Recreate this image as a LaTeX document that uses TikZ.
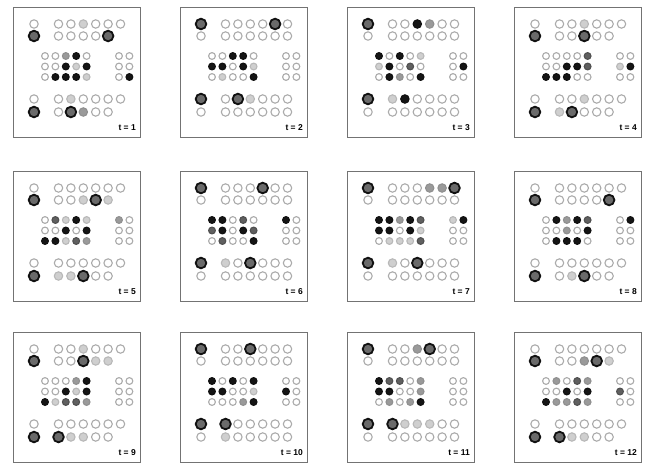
\documentclass[tikz,border=0pt]{standalone}
\usepackage{fontspec}
\setmainfont{Liberation Sans}
\definecolor{flw}{HTML}{FFFFFF}\definecolor{lnw}{HTML}{ABABAB}
\definecolor{fll}{HTML}{CFCFCF}\definecolor{lnl}{HTML}{B8B8B8}
\definecolor{flm}{HTML}{9A9A9A}\definecolor{lnm}{HTML}{909090}
\definecolor{fld}{HTML}{606060}\definecolor{lnd}{HTML}{505050}
\definecolor{flk}{HTML}{151515}\definecolor{lnk}{HTML}{101010}
\definecolor{flB}{HTML}{6A6A6A}\definecolor{lnB}{HTML}{111111}
\def\Rw#1{#1}\def\Rl#1{#1}\def\Rm#1{#1}\def\Rd#1{#1}\def\Rk#1{#1}\def\RB#1{5.3}
\def\Ww{1.1pt}\def\Wl{1.1pt}\def\Wm{1.1pt}\def\Wd{1.1pt}\def\Wk{1.1pt}\def\WB{1.8pt}
\newcommand\crow[5]{%
  \foreach \c [count=\i from 0] in {#5} {%
    \pgfmathsetmacro\xx{#1+\i*#3}%
    \edef\rr{\csname R\c\endcsname{#4}}%
    \edef\lw{\csname W\c\endcsname}%
    \draw[line width=\lw, draw=ln\c, fill=fl\c] (\xx,#2) circle[radius=\rr];
  }}
\newcommand\panelbox[1]{%
  \draw[boxline] (0,0) rectangle (127,130);
  \node[tlabel] (t#1) at (123,123) {t = #1};}
\newcommand\leftcol[4]{%
  \crow{21}{17}{0}{4.2}{#1}\crow{21}{29}{0}{4.2}{#2}%
  \crow{21}{92}{0}{4.2}{#3}\crow{21}{105}{0}{4.2}{#4}}
\newcommand\grprows[4]{%
  \crow{45.5}{17}{12.4}{4.2}{#1}\crow{45.5}{29}{12.4}{4.2}{#2}%
  \crow{45.5}{92}{12.4}{4.2}{#3}\crow{45.5}{105}{12.4}{4.2}{#4}}
\newcommand\midgrid[6]{%
  \crow{32}{49}{10.4}{3.4}{#1}\crow{32}{59.5}{10.4}{3.4}{#2}\crow{32}{70}{10.4}{3.4}{#3}%
  \crow{106}{49}{10.4}{3.4}{#4}\crow{106}{59.5}{10.4}{3.4}{#5}\crow{106}{70}{10.4}{3.4}{#6}}
\tikzset{boxline/.style={draw=black!55, line width=1pt},
  tlabel/.style={anchor=base east, font=\bfseries\fontsize{8.5}{8.5}\selectfont, inner sep=0pt}}
\begin{document}
\begin{tikzpicture}[x=1pt,y=-1pt]
\useasboundingbox (0,0) rectangle (653,466);
% row 1
\begin{scope}[shift={(13,7)}]
\panelbox{1}\leftcol{w}{B}{w}{B}
\grprows{w,w,l,w,w,w}{w,w,w,w,B}{w,l,w,w,w,w}{w,B,m,w,w}
\midgrid{w,w,m,k,w}{w,w,k,l,k}{w,k,k,k,l}{w,w}{w,w}{w,k}
\end{scope}
\begin{scope}[shift={(180,7)}]
\panelbox{2}\leftcol{B}{w}{B}{w}
\grprows{w,w,w,w,B,w}{w,w,w,w,w,w}{w,B,l,w,w,w}{w,w,w,w,w,w}
\midgrid{w,w,k,k,w}{k,k,w,k,l}{w,l,w,w,k}{w,w}{w,w}{w,w}
\end{scope}
\begin{scope}[shift={(347,7)}]
\panelbox{3}\leftcol{B}{w}{B}{w}
\grprows{w,w,k,m,w,w}{w,w,w,w,w,w}{l,k,w,w,w,w}{w,w,w,w,w,w}
\midgrid{k,w,k,w,l}{l,k,w,d,w}{w,k,m,w,k}{w,w}{w,k}{w,w}
\end{scope}
\begin{scope}[shift={(514,7)}]
\panelbox{4}\leftcol{w}{B}{w}{B}
\grprows{w,w,l,w,w,w}{w,w,B,w,w}{w,w,l,w,w,w}{l,B,w,w,w}
\midgrid{w,w,w,w,d}{w,w,k,k,d}{k,k,k,w,w}{w,w}{l,k}{w,w}
\end{scope}
% row 2
\begin{scope}[shift={(13,171)}]
\panelbox{5}\leftcol{w}{B}{w}{B}
\grprows{w,w,w,w,w,w}{w,w,l,B,l}{w,w,w,w,w,w}{l,l,B,w,w}
\midgrid{w,d,l,k,l}{w,w,k,w,k}{k,k,l,d,m}{m,w}{w,w}{w,w}
\end{scope}
\begin{scope}[shift={(180,171)}]
\panelbox{6}\leftcol{B}{w}{B}{w}
\grprows{w,w,w,B,w,w}{w,w,w,w,w,w}{l,w,B,w,w,w}{w,w,w,w,w,w}
\midgrid{k,k,w,d,w}{d,k,w,k,d}{w,d,w,w,k}{k,w}{w,w}{w,w}
\end{scope}
\begin{scope}[shift={(347,171)}]
\panelbox{7}\leftcol{B}{w}{B}{w}
\grprows{w,w,w,m,m,B}{w,w,w,w,w,w}{l,w,B,w,w,w}{w,w,w,w,w,w}
\midgrid{k,k,m,k,d}{k,k,w,k,l}{w,l,l,l,d}{l,k}{w,w}{w,w}
\end{scope}
\begin{scope}[shift={(514,171)}]
\panelbox{8}\leftcol{w}{B}{w}{B}
\grprows{w,w,w,w,w,w}{w,w,w,w,B}{w,w,w,w,w,w}{w,l,B,w,w}
\midgrid{w,k,m,k,d}{w,w,m,w,k}{w,k,k,k,w}{w,k}{w,w}{w,w}
\end{scope}
% row 3
\begin{scope}[shift={(13,332)}]
\panelbox{9}\leftcol{w}{B}{w}{B}
\grprows{w,w,l,w,w,w}{w,w,B,l,l}{w,w,w,w,w,w}{B,l,l,w,w}
\midgrid{w,w,w,m,k}{w,w,k,l,k}{k,l,d,d,m}{w,w}{w,w}{w,w}
\end{scope}
\begin{scope}[shift={(180,332)}]
\panelbox{10}\leftcol{B}{w}{B}{w}
\grprows{w,w,B,w,w,w}{w,w,w,w,w,w}{B,w,w,w,w,w}{l,w,w,w,w,w}
\midgrid{k,w,k,w,k}{k,k,w,w,l}{w,w,w,m,k}{w,w}{k,w}{w,w}
\end{scope}
\begin{scope}[shift={(347,332)}]
\panelbox{11}\leftcol{B}{w}{B}{w}
\grprows{w,w,m,B,w,w}{w,w,w,w,w,w}{B,l,l,l,w,w}{w,w,w,w,w,w}
\midgrid{k,d,d,w,m}{k,k,w,w,m}{w,m,w,m,k}{w,w}{w,w}{w,w}
\end{scope}
\begin{scope}[shift={(514,332)}]
\panelbox{12}\leftcol{w}{B}{w}{B}
\grprows{w,w,w,w,w,w}{w,w,m,B,l}{w,w,w,w,w,w}{B,l,l,w,w}
\midgrid{w,m,w,d,m}{w,w,k,w,k}{k,m,m,d,m}{w,w}{d,w}{w,w}
\end{scope}
\end{tikzpicture}
\end{document}
